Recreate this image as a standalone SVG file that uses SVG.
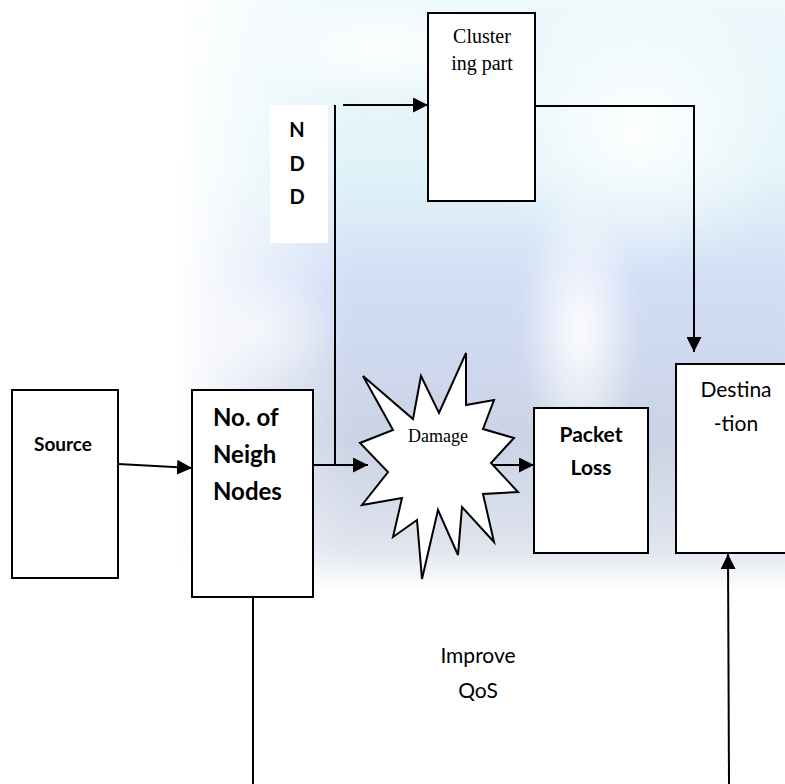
<svg xmlns="http://www.w3.org/2000/svg" width="785" height="784" viewBox="0 0 785 784">
<defs>
<style>
.box{fill:#fff;stroke:#000;stroke-width:2}
.ln{fill:none;stroke:#000;stroke-width:2}
.b{font-family:Lato,"Open Sans","Liberation Sans",sans-serif;font-weight:bold;fill:#000}
.r{font-family:Lato,"Open Sans","Liberation Sans",sans-serif;fill:#000}
.s{font-family:"Liberation Serif","Times New Roman",serif;fill:#000}
</style>
<marker id="ah" viewBox="0 0 10 10" refX="10" refY="5" markerWidth="7.5" markerHeight="7.5" markerUnits="strokeWidth" orient="auto">
<path d="M0,0 L10,5 L0,10 z" fill="#000"/>
</marker>
<linearGradient id="bgv" x1="0" y1="0" x2="0" y2="1">
<stop offset="0" stop-color="#eef9fb"/>
<stop offset="0.3" stop-color="#e0f3f8"/>
<stop offset="0.5" stop-color="#d2ddf6"/>
<stop offset="0.75" stop-color="#cbd3e4"/>
<stop offset="0.93" stop-color="#dfe4ee"/>
<stop offset="1" stop-color="#ffffff"/>
</linearGradient>
<linearGradient id="fadeL" x1="0" y1="0" x2="1" y2="0">
<stop offset="0" stop-color="#fff" stop-opacity="1"/>
<stop offset="0.12" stop-color="#fff" stop-opacity="0.55"/>
<stop offset="0.28" stop-color="#fff" stop-opacity="0"/>
</linearGradient>
<radialGradient id="wh" cx="0.5" cy="0.5" r="0.5">
<stop offset="0" stop-color="#fff" stop-opacity="0.95"/>
<stop offset="1" stop-color="#fff" stop-opacity="0"/>
</radialGradient>
<filter id="blur" x="-10%" y="-10%" width="120%" height="120%"><feGaussianBlur stdDeviation="6"/></filter>
</defs>
<rect width="785" height="784" fill="#fff"/>
<g id="background" filter="url(#blur)">
<rect x="175" y="-10" width="620" height="600" fill="url(#bgv)"/>
<rect x="175" y="-10" width="620" height="600" fill="url(#fadeL)"/>
<ellipse cx="640" cy="130" rx="170" ry="140" fill="url(#wh)"/>
<ellipse cx="580" cy="330" rx="60" ry="140" fill="url(#wh)"/>
<ellipse cx="380" cy="50" rx="140" ry="60" fill="url(#wh)"/>
<ellipse cx="260" cy="330" rx="80" ry="60" fill="url(#wh)" opacity="0.6"/>
</g>
<g id="connectors">
<line class="ln" x1="118" y1="464" x2="192" y2="468" marker-end="url(#ah)"/>
<line class="ln" x1="313" y1="465" x2="368" y2="465" marker-end="url(#ah)"/>
<polyline class="ln" points="335,465 335,105"/>
<line class="ln" x1="343" y1="105" x2="428" y2="105" marker-end="url(#ah)"/>
<polyline class="ln" points="535,106 694,106 694,352" marker-end="url(#ah)"/>
<line class="ln" x1="490" y1="465" x2="534" y2="465" marker-end="url(#ah)"/>
<line class="ln" x1="253" y1="597" x2="253" y2="784"/>
<line class="ln" x1="729" y1="784" x2="728" y2="554" marker-end="url(#ah)"/>
</g>
<g id="source">
<rect class="box" x="12" y="390" width="106" height="188"/>
<text class="b" x="63" y="451" font-size="19" text-anchor="middle">Source</text>
</g>
<g id="neigh">
<rect class="box" x="192" y="390" width="121" height="207"/>
<text class="b" x="213" y="426" font-size="24">No. of</text>
<text class="b" x="213" y="463" font-size="24">Neigh</text>
<text class="b" x="213" y="500" font-size="24">Nodes</text>
</g>
<g id="ndd">
<rect x="270" y="105" width="58" height="138" fill="#fff"/>
<text class="b" x="297" y="137" font-size="20" text-anchor="middle">N</text>
<text class="b" x="297" y="171" font-size="20" text-anchor="middle">D</text>
<text class="b" x="297" y="204" font-size="20" text-anchor="middle">D</text>
</g>
<g id="clustering">
<rect class="box" x="428" y="13" width="107" height="188"/>
<text class="s" x="482" y="43" font-size="20" text-anchor="middle">Cluster</text>
<text class="s" x="482" y="70" font-size="20" text-anchor="middle">ing part</text>
</g>
<g id="damage">
<polygon class="box" points="363,376 413,419 421,376 439,413 466,353 466,405 494,400 483,429 514,438 491,463 518,492 483,494 494,542 462,507 458,555 438,510 422,579 417,520 393,537 402,498 362,505 388,472 360,443 393,430"/>
<text class="s" x="438" y="442" font-size="18" text-anchor="middle">Damage</text>
</g>
<g id="packet">
<rect class="box" x="534" y="408" width="114" height="145"/>
<text class="b" x="591" y="442" font-size="21" text-anchor="middle">Packet</text>
<text class="b" x="591" y="475" font-size="21" text-anchor="middle">Loss</text>
</g>
<g id="destination">
<rect class="box" x="676" y="364" width="120" height="189"/>
<text class="r" x="736" y="397" font-size="21" text-anchor="middle">Destina</text>
<text class="r" x="736" y="431" font-size="21" text-anchor="middle">-tion</text>
</g>
<g id="qos">
<text class="r" x="478" y="663" font-size="21" text-anchor="middle">Improve</text>
<text class="r" x="478" y="698" font-size="21" text-anchor="middle">QoS</text>
</g>
</svg>
